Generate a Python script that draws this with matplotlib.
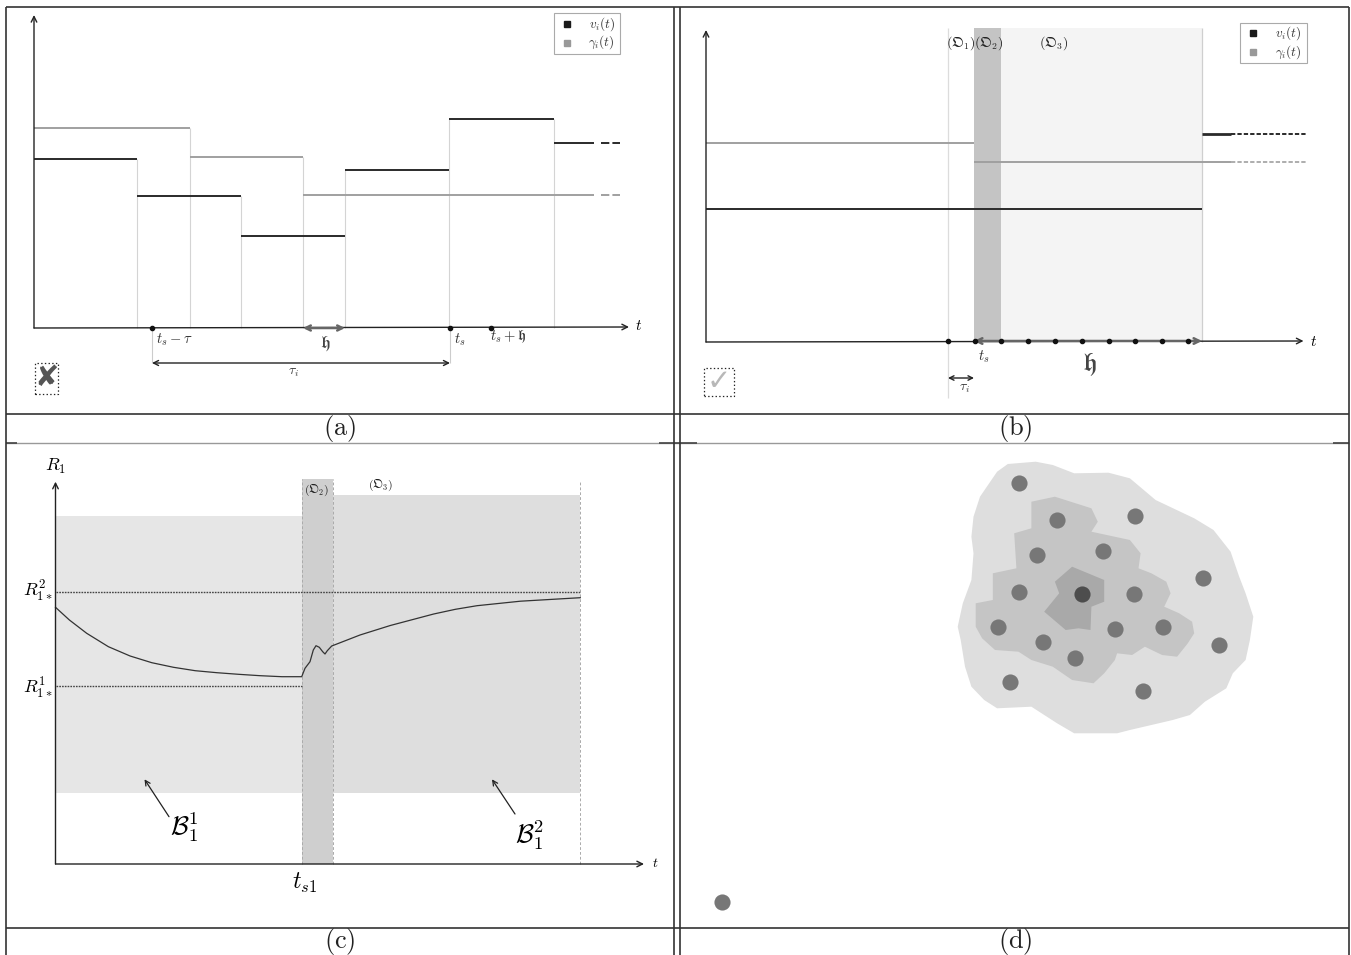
import numpy as np
import matplotlib.pyplot as plt
from matplotlib.patches import Rectangle, Polygon

plt.rcParams['mathtext.fontset'] = 'cm'
plt.rcParams['font.family'] = ['DejaVu Sans']
plt.rcParams['lines.scale_dashes'] = False

W, H = 1351, 955

# panel (a): piecewise constant v_i(t) and gamma_i(t), units = px from axis origin
edges_v = [0, 103, 207, 311, 415, 520, 560]
vals_v = [169, 132, 92, 158, 209, 185]
edges_g = [0, 155.5, 269, 560]
vals_g = [200, 171, 133]
dash_a = [566.6, 586]
marks_a = [118, 416, 457]          # t_s - tau, t_s, t_s + h
h_span_a = [269, 311]
tau_span_a = [118, 416]

# panel (b)
v_b = [133, 208]                   # before / after the window
g_b = [199, 180]
t_o1, t_ts, t_o2, t_end = 242, 268, 295, 496
solid_end_b, dash_end_b = 524.6, 599.6
dots_b = [242, 269, 295, 322, 349, 375.5, 402.5, 429, 455.6, 481.8]

# panel (c): R_1(t)
curve_t = [0, 13.9, 31.2, 52.9, 74.6, 96.3, 118, 139.7, 161.4, 183, 204.7, 226.4, 246.2,
           249.5, 254.5, 257.8, 260.5, 263.8, 267.2, 269.5, 271.8, 276.2, 304.5, 334.8,
           378.2, 399.9, 421.5, 464.9, 524.8]
curve_r = [256.7, 244, 230.7, 217.3, 208, 201.3, 196.7, 193.3, 191.3, 189.7, 188.3, 187.3, 187.3,
           195.7, 202.3, 214, 218.3, 216.7, 212.3, 210, 213.3, 218, 229, 238.5,
           250, 254.7, 258.3, 262.8, 266.3]
r1_star, r2_star = 178, 272.3
ts1, ts1_end, t_last = 246.5, 277, 524.5
b1_top, b2_top, band_bottom, o2_top = 348, 369, 71.3, 385

# panel (d): regions and cells
blob_x = [327.8, 355.7, 372.8, 394.2, 428.5, 449.9, 475.6, 514.2, 533.5, 550.6, 559.2, 565.6, 573.3,
          569.9, 565.6, 552.8, 546.3, 524.9, 509.9, 492.8, 471.4, 449.9, 437.1, 394.2, 377.1, 351.4,
          317.1, 304.2, 291.4, 285, 280.7, 277.7, 282.8, 291.4, 293.5, 291.4, 293.5, 300, 317.1]
blob_y = [464, 466.3, 463, 454.7, 455.3, 449.7, 428, 409.7, 398, 376.3, 351.3, 334.7, 311.3,
          288, 268, 254.7, 239.7, 226.3, 213, 208, 203, 198, 194.7, 194.7, 204.7, 221.3,
          219.7, 228, 241.3, 261.3, 288, 301.3, 324.7, 348, 374.7, 391.3, 411.3, 431.3, 456.3]
mid_x = [351.4, 374.9, 411.4, 417.8, 411.4, 449.9, 460.6, 458.5, 471.4, 486.3, 490.6, 484.2, 499.2,
         512.1, 514.2, 507.8, 497.1, 482.1, 464.9, 452.1, 437.1, 434.9, 424.2, 413.5, 392.1, 372.8,
         351.4, 338.5, 315, 302.1, 295.7, 295.7, 312.8, 312.8, 336.4, 334.2, 351.4]
mid_y = [426.3, 431.3, 419.7, 406.3, 396.3, 388, 374.7, 359.7, 354.7, 346.3, 334.7, 321.3, 314.7,
         306.3, 294.7, 284.7, 271.3, 273, 281.3, 273, 274.7, 268, 254.7, 244.7, 248, 261.3,
         268, 276.3, 278, 289.7, 301.3, 324.7, 328, 354.7, 359.7, 394.7, 399.7]
core_x = [392.1, 424.2, 424.2, 411.4, 410.5, 398.5, 385.7, 364.2, 379.2, 374.9]
core_y = [361.3, 348, 326.3, 321.3, 298, 299.7, 298, 316.3, 334.7, 346.3]
nodes_x = [339.4, 377.1, 455.1, 357.4, 423.4, 522.8, 338.5, 454.2, 318.4, 434.9, 483.4,
           538.6, 362.5, 395.1, 330.4, 462.8, 41.6]
nodes_y = [444.7, 408, 412, 372.7, 377.3, 350.3, 335.7, 334, 300.7, 298.7, 300.7,
           283.3, 286.3, 270.3, 246.3, 237.3, 26.3]
centre = (401.9, 333.7)

captions = ['(a)', '(b)', '(c)', '(d)']

fig = plt.figure(figsize=(W / 100, H / 100), dpi=100)

# table frame
bg = fig.add_axes([0, 0, 1, 1])
bg.set_xlim(0, W)
bg.set_ylim(H, 0)
bg.axis('off')
bg.hlines([7, 414, 928], 6, 1349, color='#333', lw=1.2)
bg.hlines(443, 6, 1349, color='#999', lw=1.0)
bg.hlines([443, 443, 443], [6, 659, 1333], [17, 697, 1349], color='#444', lw=1.2)
bg.vlines([6, 674, 680, 1349], 7, 955, color='#333', lw=1.2)
for (cx, cy), cap in zip([(340, 428), (1015, 428), (340, 941), (1015, 941)], captions):
    bg.text(cx, cy, r'$\mathrm{%s}$' % cap, fontsize=19, ha='center', va='center', color='#222')


def panel(x0, y0, x1, y1, ox, oy):
    ax = fig.add_axes([x0 / W, 1 - y1 / H, (x1 - x0) / W, (y1 - y0) / H])
    ax.set_xlim(x0 - ox, x1 - ox)
    ax.set_ylim(oy - y1, oy - y0)
    ax.axis('off')
    ax.patch.set_alpha(0)
    return ax


def arrow(ax, a, b, style='->', color='#222', lw=1.0, ms=10):
    ax.annotate('', xy=b, xytext=a,
                arrowprops=dict(arrowstyle=style, color=color, lw=lw, shrinkA=0, shrinkB=0,
                                mutation_scale=ms))


def legend_box(ax, x0, y0, x1, y1):
    ax.add_patch(Rectangle((x0, y1), x1 - x0, y0 - y1, fill=False, ec='#aaa', lw=0.8))
    ym = [y0 - (y0 - y1) * 0.26, y0 - (y0 - y1) * 0.72]
    ax.plot(x0 + 13, ym[0], 's', ms=5, color='#1a1a1a')
    ax.plot(x0 + 13, ym[1], 's', ms=5, color='#999')
    ax.text(x1 - 5, ym[0], r'$v_i(t)$', fontsize=9.5, ha='right', va='center', color='#333')
    ax.text(x1 - 5, ym[1], r'$\gamma_i(t)$', fontsize=9.5, ha='right', va='center', color='#333')


# ---------------- (a)
ax = panel(6, 7, 674, 414, 34, 328)
for e, vals, col in [(edges_g, vals_g, '#a0a0a0'), (edges_v, vals_v, '#2a2a2a')]:
    tops = [max(vals[i - 1], vals[i]) for i in range(1, len(vals))]
    ax.vlines(e[1:-1], 0, tops, color='#d4d4d4', lw=0.8, zorder=1)
    ax.hlines(vals, e[:-1], e[1:], color=col, lw=1.4, zorder=2)
    ax.plot(dash_a, [vals[-1]] * 2, color=col, lw=1.4, ls=(0, (6, 2.2)))
arrow(ax, (0, 0), (0, 313), lw=1.0)
arrow(ax, (0, 0), (595, 1), lw=1.0)
ax.text(601, 2, r'$t$', fontsize=11, va='center')
ax.plot(marks_a, [0] * 3, 'o', ms=3, color='#111', zorder=4)
arrow(ax, (h_span_a[0], 0), (h_span_a[1], 0), style='<->', color='#666', lw=1.8, ms=9)
ax.vlines(tau_span_a, -35, 0, color='#ccc', lw=0.8)
arrow(ax, (tau_span_a[0], -35), (tau_span_a[1], -35), style='<->', lw=1.0, ms=9)
ax.text(122, -12, r'$t_s-\tau$', fontsize=10.5, va='center', color='#333')
ax.text(426, -12, r'$t_s$', fontsize=10.5, ha='center', va='center', color='#333')
ax.text(456, -9, r'$t_s+\mathfrak{h}$', fontsize=10.5, va='center', color='#333')
ax.text(291, -16, r'$\mathfrak{h}$', fontsize=13, ha='center', va='center', color='#444')
ax.text(259, -44, r'$\tau_i$', fontsize=10, ha='center', va='center', color='#333')
legend_box(ax, 520, 315, 586, 274)
ax.add_patch(Rectangle((1, -66), 23, 31, fill=False, ls=':', lw=0.9, ec='#222'))
ax.text(12.5, -50.5, '\u2718', fontsize=21, color='#555', ha='center', va='center')

# ---------------- (b)
ax = panel(680, 7, 1349, 414, 706, 342)
ax.add_patch(Rectangle((t_ts, 0), t_o2 - t_ts, 314, color='#c4c4c4', lw=0, zorder=0))
ax.add_patch(Rectangle((t_o2, 0), t_end - t_o2, 314, color='#f4f4f4', lw=0, zorder=0))
ax.vlines(t_o1, -56, 314, color='#dcdcdc', lw=0.9)
ax.vlines(t_end, 0, 314, color='#cfcfcf', lw=0.9)
ax.hlines(g_b, [0, t_ts], [t_ts, solid_end_b], color='#a0a0a0', lw=1.4, zorder=2)
ax.plot([solid_end_b, dash_end_b], [g_b[1]] * 2, color='#a0a0a0', lw=1.2, ls=(0, (3.1, 1.5)))
ax.hlines(v_b[0], 0, t_end, color='#2a2a2a', lw=1.4, zorder=2)
ax.hlines(v_b[1], t_end, solid_end_b, color='#2a2a2a', lw=2.0, zorder=2)
ax.plot([solid_end_b, dash_end_b], [v_b[1]] * 2, color='#2a2a2a', lw=1.4, ls=(0, (3.1, 1.5)))
arrow(ax, (0, 0), (0, 312), lw=1.0)
arrow(ax, (0, 0), (597.5, 1), lw=1.0)
ax.text(604, 1, r'$t$', fontsize=11, va='center')
arrow(ax, (t_ts, 1), (t_end, 1), style='<->', color='#666', lw=1.8, ms=10)
ax.plot(dots_b, [1] * len(dots_b), 'o', ms=3, color='#111', zorder=4)
ax.text(383, -23, r'$\mathfrak{h}$', fontsize=19, ha='center', va='center', color='#444')
ax.text(278, -15, r'$t_s$', fontsize=10.5, ha='center', va='center', color='#333')
arrow(ax, (t_o1, -36), (t_ts, -36), style='<->', lw=1.0, ms=8)
ax.text(258, -46, r'$\tau_i$', fontsize=10, ha='center', va='center', color='#333')
for x, lab in zip([254.7, 282.5, 347.6], [1, 2, 3]):
    ax.text(x, 299, r'$(\mathfrak{O}_%d)$' % lab, fontsize=10, ha='center', va='center', color='#222')
legend_box(ax, 534, 319, 600.5, 279)
ax.add_patch(Rectangle((-2, -54), 29.6, 28, fill=False, ls=':', lw=0.9, ec='#222'))
ax.text(12.8, -40, '\u2713', fontsize=21, color='#b8b8b8', ha='center', va='center')

# ---------------- (c)
ax = panel(6, 443, 674, 928, 55.5, 864)
ax.add_patch(Rectangle((0, band_bottom), ts1, b1_top - band_bottom, color='#e6e6e6', lw=0, zorder=0))
ax.add_patch(Rectangle((ts1_end, band_bottom), t_last - ts1_end, b2_top - band_bottom,
                       color='#dedede', lw=0, zorder=0))
ax.add_patch(Rectangle((ts1, 0), ts1_end - ts1, o2_top, color='#cfcfcf', lw=0, zorder=0))
ax.vlines([ts1, ts1_end], 0, o2_top, color='#aaa', lw=0.7, ls=(0, (2, 1.5)))
ax.vlines(t_last, 0, 382, color='#aaa', lw=0.7, ls=(0, (2, 1.5)))
ax.hlines(r2_star, 0, t_last, color='#444', lw=1.0, ls=(0, (1.2, 0.8)))
ax.hlines(r1_star, 0, ts1, color='#444', lw=1.0, ls=(0, (1.2, 0.8)))
ax.plot(curve_t, curve_r, color='#333', lw=0.9)
arrow(ax, (0, 0), (0, 382.3), lw=1.0)
arrow(ax, (0, 0), (588.5, 0), lw=1.0)
ax.text(596.5, 1, r'$t$', fontsize=10, va='center')
ax.text(0.5, 398, r'$R_1$', fontsize=13, ha='center', va='center')
ax.text(-3, 273, r'$R^2_{1*}$', fontsize=13, ha='right', va='center')
ax.text(-3, 176, r'$R^1_{1*}$', fontsize=13, ha='right', va='center')
ax.text(261, 374, r'$(\mathfrak{O}_2)$', fontsize=8.5, ha='center', va='center', color='#222')
ax.text(325.3, 379, r'$(\mathfrak{O}_3)$', fontsize=8.5, ha='center', va='center', color='#222')
arrow(ax, (113.5, 47.3), (89, 84.7), lw=0.9, ms=9)
arrow(ax, (459.5, 50), (436.5, 84.7), lw=0.9, ms=9)
ax.text(128.5, 37, r'$\mathcal{B}_1^1$', fontsize=19, ha='center', va='center')
ax.text(473.5, 29, r'$\mathcal{B}_1^2$', fontsize=19, ha='center', va='center')
ax.text(249.5, -19, r'$t_{s1}$', fontsize=17, ha='center', va='center')

# ---------------- (d)
ax = panel(680, 443, 1349, 928, 680, 928)
ax.add_patch(Polygon(np.column_stack([blob_x, blob_y]), closed=True, fc='#dedede', ec='none'))
ax.add_patch(Polygon(np.column_stack([mid_x, mid_y]), closed=True, fc='#c5c5c5', ec='none'))
ax.add_patch(Polygon(np.column_stack([core_x, core_y]), closed=True, fc='#a9a9a9', ec='none'))
ax.scatter(nodes_x, nodes_y, s=135, color='#777', lw=0, zorder=3)
ax.scatter([centre[0]], [centre[1]], s=135, color='#4d4d4d', lw=0, zorder=3)

fig.savefig('out.png', dpi=100)
